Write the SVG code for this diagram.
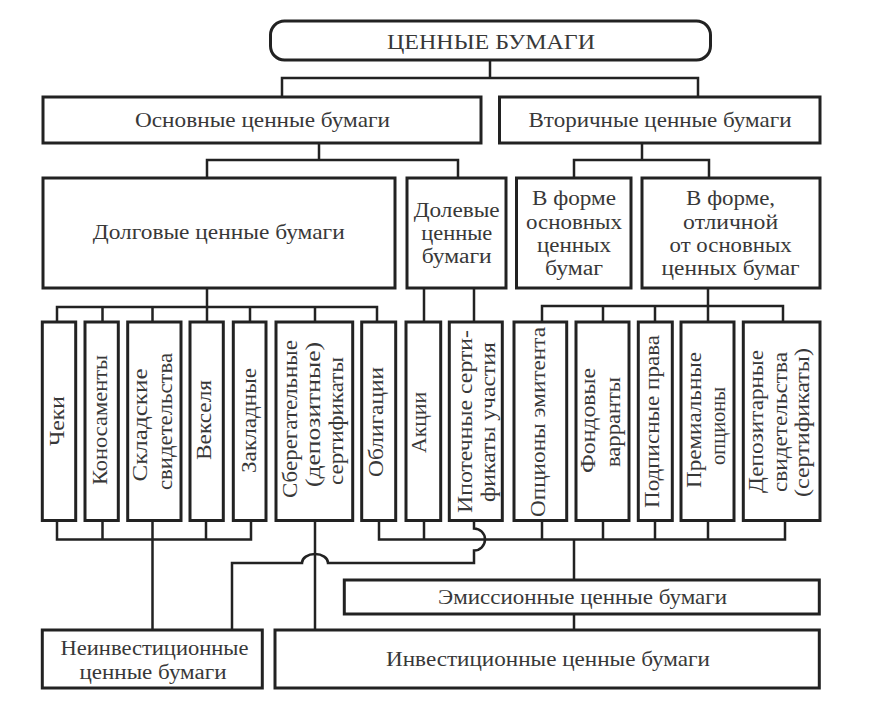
<svg xmlns="http://www.w3.org/2000/svg" width="892" height="702" viewBox="0 0 892 702">
<style>
.box{fill:#fff;stroke:#222;stroke-width:3}
.ln{fill:none;stroke:#222;stroke-width:2.5}
.t{font-family:"Liberation Serif","Times New Roman",serif;font-size:22px;fill:#383838;text-anchor:middle}
.s{font-size:20px}
.v{font-family:"Liberation Serif","Times New Roman",serif;font-size:21px;fill:#383838;text-anchor:middle}
</style>
<rect width="892" height="702" fill="#fff"/>
<g id="connectors">
<path class="ln" d="M490,60V78M282,97V78H698V97"/>
<path class="ln" d="M319,143V160M207,178V160H458V178"/>
<path class="ln" d="M642,143V160M574,178V160H709V178"/>
<path class="ln" d="M207,288V322M57,322V307H377V322M102.5,307V322M152.5,307V322M250,307V322M315,307V322"/>
<path class="ln" d="M424,288V322M474,288V322"/>
<path class="ln" d="M708,288V322M542,322V306H783V322M603,306V322M655,306V322"/>
<path class="ln" d="M57,520V539.5H251V520M102.5,520V539.5M152.5,520V630M206,520V539.5"/>
<path class="ln" d="M315,520V630"/>
<path class="ln" d="M379,520V539.5H785V520M424,520V539.5M542,520V539.5M603,520V539.5M655,520V539.5M708,520V539.5M574,539.5V580M574,614V630"/>
<path class="ln" d="M474,520V528.5A11,11 0 0 1 474,550.5V563H328A13,9 0 0 0 302,563H232V630"/>
</g>
<g id="title">
<rect class="box" x="270.5" y="21" width="440" height="39" rx="14" ry="14"/>
<text class="t" x="491" y="49" font-size="23" textLength="208" lengthAdjust="spacingAndGlyphs">ЦЕННЫЕ БУМАГИ</text>
</g>
<g id="osnovnye">
<rect class="box" x="43" y="97" width="438" height="46"/>
<text class="t" x="262.5" y="127" textLength="255" lengthAdjust="spacingAndGlyphs">Основные ценные бумаги</text>
</g>
<g id="vtorichnye">
<rect class="box" x="499.5" y="97" width="320.5" height="46"/>
<text class="t" x="660" y="127" textLength="263" lengthAdjust="spacingAndGlyphs">Вторичные ценные бумаги</text>
</g>
<g id="dolgovye">
<rect class="box" x="43" y="178" width="352" height="110"/>
<text class="t" x="218.7" y="239" textLength="252" lengthAdjust="spacingAndGlyphs">Долговые ценные бумаги</text>
</g>
<g id="dolevye">
<rect class="box" x="407" y="178" width="99" height="110"/>
<text class="t s" x="456.7" y="216.5" textLength="86" lengthAdjust="spacingAndGlyphs">Долевые</text>
<text class="t s" x="456.7" y="239.5" textLength="71" lengthAdjust="spacingAndGlyphs">ценные</text>
<text class="t s" x="456.7" y="262.5" textLength="70" lengthAdjust="spacingAndGlyphs">бумаги</text>
</g>
<g id="vforme-osn">
<rect class="box" x="516.5" y="178" width="114.5" height="110"/>
<text class="t s" x="574" y="205" textLength="84" lengthAdjust="spacingAndGlyphs">В форме</text>
<text class="t s" x="574" y="228.5" textLength="96" lengthAdjust="spacingAndGlyphs">основных</text>
<text class="t s" x="574" y="251.5" textLength="74" lengthAdjust="spacingAndGlyphs">ценных</text>
<text class="t s" x="574" y="275" textLength="58" lengthAdjust="spacingAndGlyphs">бумаг</text>
</g>
<g id="vforme-otl">
<rect class="box" x="642" y="178" width="178" height="110"/>
<text class="t s" x="730.6" y="205" textLength="89" lengthAdjust="spacingAndGlyphs">В форме,</text>
<text class="t s" x="730.6" y="228.5" textLength="95" lengthAdjust="spacingAndGlyphs">отличной</text>
<text class="t s" x="730.6" y="251.5" textLength="122" lengthAdjust="spacingAndGlyphs">от основных</text>
<text class="t s" x="730.6" y="275" textLength="138" lengthAdjust="spacingAndGlyphs">ценных бумаг</text>
</g>
<g id="cheki">
<rect class="box" x="42.3" y="322" width="33.4" height="198.5"/>
<text class="v" transform="translate(64,421) rotate(-90)" textLength="50" lengthAdjust="spacingAndGlyphs">Чеки</text>
</g>
<g id="konosamenty">
<rect class="box" x="85" y="322" width="33.3" height="198.5"/>
<text class="v" transform="translate(107,420) rotate(-90)" textLength="130" lengthAdjust="spacingAndGlyphs">Коносаменты</text>
</g>
<g id="skladskie">
<rect class="box" x="127.7" y="322" width="53.3" height="198.5"/>
<text class="v" transform="translate(147,425) rotate(-90)" textLength="113" lengthAdjust="spacingAndGlyphs">Складские</text>
<text class="v" transform="translate(171.5,421.5) rotate(-90)" textLength="137" lengthAdjust="spacingAndGlyphs">свидетельства</text>
</g>
<g id="vekselya">
<rect class="box" x="190" y="322" width="33.3" height="198.5"/>
<text class="v" transform="translate(211,420) rotate(-90)" textLength="80" lengthAdjust="spacingAndGlyphs">Векселя</text>
</g>
<g id="zakladnye">
<rect class="box" x="233.3" y="322" width="32.7" height="198.5"/>
<text class="v" transform="translate(255.5,420.5) rotate(-90)" textLength="105" lengthAdjust="spacingAndGlyphs">Закладные</text>
</g>
<g id="sberegatelnye">
<rect class="box" x="276" y="322" width="76.7" height="198.5"/>
<text class="v" transform="translate(297,419) rotate(-90)" textLength="158" lengthAdjust="spacingAndGlyphs">Сберегательные</text>
<text class="v" transform="translate(320,414.5) rotate(-90)" textLength="145" lengthAdjust="spacingAndGlyphs">(депозитные)</text>
<text class="v" transform="translate(342.5,421) rotate(-90)" textLength="128" lengthAdjust="spacingAndGlyphs">сертификаты</text>
</g>
<g id="obligacii">
<rect class="box" x="361.7" y="322" width="34" height="198.5"/>
<text class="v" transform="translate(383,422) rotate(-90)" textLength="110" lengthAdjust="spacingAndGlyphs">Облигации</text>
</g>
<g id="akcii">
<rect class="box" x="406" y="322" width="34.7" height="198.5"/>
<text class="v" transform="translate(426,422.5) rotate(-90)" textLength="61" lengthAdjust="spacingAndGlyphs">Акции</text>
</g>
<g id="ipotechnye">
<rect class="box" x="449.3" y="322" width="53" height="198.5"/>
<text class="v" transform="translate(472,421.5) rotate(-90)" textLength="183" lengthAdjust="spacingAndGlyphs">Ипотечные серти-</text>
<text class="v" transform="translate(494.5,422) rotate(-90)" textLength="160" lengthAdjust="spacingAndGlyphs">фикаты участия</text>
</g>
<g id="opciony-emitenta">
<rect class="box" x="514" y="322" width="52.7" height="198.5"/>
<text class="v" transform="translate(544.5,422) rotate(-90)" textLength="190" lengthAdjust="spacingAndGlyphs">Опционы эмитента</text>
</g>
<g id="fondovye">
<rect class="box" x="576" y="322" width="53" height="198.5"/>
<text class="v" transform="translate(595,420.5) rotate(-90)" textLength="105" lengthAdjust="spacingAndGlyphs">Фондовые</text>
<text class="v" transform="translate(620,422) rotate(-90)" textLength="90" lengthAdjust="spacingAndGlyphs">варранты</text>
</g>
<g id="podpisnye">
<rect class="box" x="638.3" y="322" width="34" height="198.5"/>
<text class="v" transform="translate(659,421.5) rotate(-90)" textLength="173" lengthAdjust="spacingAndGlyphs">Подписные права</text>
</g>
<g id="premialnye">
<rect class="box" x="681" y="322" width="53" height="198.5"/>
<text class="v" transform="translate(701,420) rotate(-90)" textLength="136" lengthAdjust="spacingAndGlyphs">Премиальные</text>
<text class="v" transform="translate(724.5,426) rotate(-90)" textLength="78" lengthAdjust="spacingAndGlyphs">опционы</text>
</g>
<g id="depozitarnye">
<rect class="box" x="743.3" y="322" width="76.7" height="198.5"/>
<text class="v" transform="translate(763,421.5) rotate(-90)" textLength="143" lengthAdjust="spacingAndGlyphs">Депозитарные</text>
<text class="v" transform="translate(786.5,422) rotate(-90)" textLength="140" lengthAdjust="spacingAndGlyphs">свидетельства</text>
<text class="v" transform="translate(809,422.5) rotate(-90)" textLength="149" lengthAdjust="spacingAndGlyphs">(сертификаты)</text>
</g>
<g id="emissionnye">
<rect class="box" x="344.3" y="580" width="475" height="34"/>
<text class="t" x="582.5" y="603.5" textLength="289" lengthAdjust="spacingAndGlyphs">Эмиссионные ценные бумаги</text>
</g>
<g id="neinvesticionnye">
<rect class="box" x="42.3" y="630" width="220" height="58"/>
<text class="t s" x="154.5" y="655" textLength="188" lengthAdjust="spacingAndGlyphs">Неинвестиционные</text>
<text class="t s" x="153" y="678.5" textLength="147" lengthAdjust="spacingAndGlyphs">ценные бумаги</text>
</g>
<g id="investicionnye">
<rect class="box" x="275" y="630" width="544.3" height="58"/>
<text class="t" x="548" y="665.5" textLength="324" lengthAdjust="spacingAndGlyphs">Инвестиционные ценные бумаги</text>
</g>
</svg>
